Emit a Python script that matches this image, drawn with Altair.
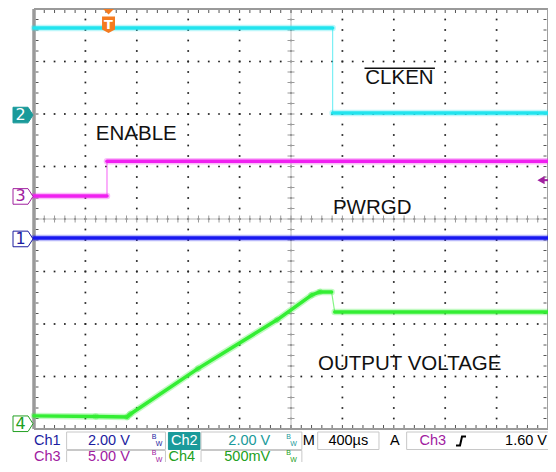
import altair as alt
import numpy as np
import pandas as pd

# ---------------- data (screen divisions: x 0..10 div @ 400 µs/div, y 0..8 div) -------------
ch1_t = [0.0, 10.0]
ch1_v = [3.64, 3.64]
ch2_t = [0.0, 5.81, 5.81, 10.0]
ch2_v = [7.64, 7.64, 6.02, 6.02]
ch3_t = [0.0, 1.42, 1.42, 10.0]
ch3_v = [4.44, 4.44, 5.10, 5.10]
ch4_t = [0.0, 1.20, 1.81, 1.87, 3.19, 4.73, 5.40, 5.56, 5.79, 5.85, 10.0]
ch4_v = [0.25, 0.24, 0.23, 0.28, 1.15, 2.08, 2.55, 2.61, 2.61, 2.23, 2.23]

trace_colors = ["#1818f0", "#22e4ee", "#f020f0", "#33ee33"]
label_colors = ["#1c1ca0", "#1a9a9a", "#a0209f", "#22a022"]

ground_labels = ["1", "2", "3", "4"]
ground_levels = [3.62, 5.98, 4.43, 0.10]

annot_text = ["CLKEN", "ENABLE", "PWRGD", "OUTPUT VOLTAGE"]
annot_x = [7.11, 1.99, 6.58, 7.31]
annot_y = [6.69, 5.61, 4.21, 1.23]

trigger_t = 1.45
trigger_level = 4.74

row1_text = ["Ch1", "2.00 V", "Ch2", "2.00 V", "M", "400µs", "A", "Ch3", "1.60 V"]
row2_text = ["Ch3", "5.00 V", "Ch4", "500mV"]

# ---------------- layout helpers ----------------
W, H = 514, 420
OX, OY = 34, 9  # page position of plot origin
PXD = W / 10.0
PYD = H / 8.0
xs = alt.Scale(domain=[0, 10], nice=False, zero=False)
ys = alt.Scale(domain=[0, 8], nice=False, zero=False)


def X(f):
    return alt.X(f, type="quantitative", scale=xs, axis=None)


def Y(f):
    return alt.Y(f, type="quantitative", scale=ys, axis=None)


def hx(px):
    # reference page x -> pixel x relative to the plot origin (horizontal fit)
    return (px - 34) * W / 520.0


def vy(py):
    return py - OY


# ---------------- graticule ----------------
dots = []
for gx in range(1, 10):
    for k in range(1, 40):
        dots.append(dict(x=gx, y=k * 0.2))
for gy in range(1, 8):
    for k in range(1, 50):
        dots.append(dict(x=k * 0.2, y=gy))
dots_df = pd.DataFrame(dots)

deco = []
tkx = 7 / PXD
tky = 7 / PYD
deco.append(dict(x=0, x2=10, y=4, y2=4, c="#b8b8b8", w=1))
deco.append(dict(x=5, x2=5, y=0, y2=8, c="#b8b8b8", w=1))
for k in range(1, 50):
    deco.append(dict(x=k * 0.2, x2=k * 0.2, y=4 - tky / 2, y2=4 + tky / 2, c="#9a9a9a", w=1))
for k in range(1, 40):
    deco.append(dict(x=5 - tkx / 2, x2=5 + tkx / 2, y=k * 0.2, y2=k * 0.2, c="#9a9a9a", w=1))
for k in range(1, 50):
    deco.append(dict(x=k * 0.2, x2=k * 0.2, y=8, y2=8 - 4 / PYD, c="#555555", w=1))
    deco.append(dict(x=k * 0.2, x2=k * 0.2, y=0, y2=4 / PYD, c="#555555", w=1))
for k in range(1, 40):
    deco.append(dict(x=1.5 / PXD, x2=4.5 / PXD, y=k * 0.2, y2=k * 0.2, c="#555555", w=1))
    deco.append(dict(x=10 - 4.5 / PXD, x2=10 - 1.5 / PXD, y=k * 0.2, y2=k * 0.2, c="#555555", w=1))
deco.append(dict(x=0, x2=10, y=8, y2=8, c="#9a9a9a", w=2))
deco.append(dict(x=0, x2=10, y=0, y2=0, c="#9a9a9a", w=2))
deco.append(dict(x=10, x2=10, y=0, y2=8, c="#a0a0a0", w=2))
deco.append(dict(x=0, x2=0, y=0, y2=8, c="#9a9a9a", w=3.5))
deco_df = pd.DataFrame(deco)

grid_dots = alt.Chart(dots_df).mark_square(size=3, color="#222222", opacity=1).encode(
    x=X("x"), y=Y("y"))
deco_rules = alt.Chart(deco_df).mark_rule().encode(
    x=X("x"), x2="x2:Q", y=Y("y"), y2="y2:Q",
    color=alt.Color("c:N", scale=None),
    strokeWidth=alt.StrokeWidth("w:Q", scale=None))

# ---------------- traces ----------------
segs = []
for t, v, col in zip([ch1_t, ch2_t, ch3_t, ch4_t], [ch1_v, ch2_v, ch3_v, ch4_v], trace_colors):
    for i in range(len(t) - 1):
        dt = t[i + 1] - t[i]
        dv = v[i + 1] - v[i]
        steep = dt == 0 or abs(dv / dt) > 3
        if steep:
            segs.append(dict(x=t[i], x2=t[i + 1], y=v[i], y2=v[i + 1], c=col, w=1.2, op=0.6))
        else:
            segs.append(dict(x=t[i], x2=t[i + 1], y=v[i], y2=v[i + 1], c=col, w=6.5, op=0.3))
            segs.append(dict(x=t[i], x2=t[i + 1], y=v[i], y2=v[i + 1], c=col, w=3.5, op=1.0))
segs_df = pd.DataFrame(segs)
traces = alt.Chart(segs_df).mark_rule(strokeCap="round").encode(
    x=X("x"), x2="x2:Q", y=Y("y"), y2="y2:Q",
    color=alt.Color("c:N", scale=None),
    strokeWidth=alt.StrokeWidth("w:Q", scale=None),
    opacity=alt.Opacity("op:Q", scale=None))

# ---------------- annotations ----------------
ann_df = pd.DataFrame(dict(x=annot_x, y=annot_y, text=annot_text))
annots = alt.Chart(ann_df).mark_text(font="Liberation Sans", fontSize=20.5, color="#111111",
                                     baseline="middle", align="center").encode(
    x=X("x"), y=Y("y"), text="text:N")
over_df = pd.DataFrame(dict(x=[6.43], x2=[7.80], y=[6.87]))
overline = alt.Chart(over_df).mark_rule(color="#111111", strokeWidth=1.5).encode(
    x=X("x"), x2="x2:Q", y=Y("y"))

# ---------------- ground markers ----------------
gfill = ["white", label_colors[1], "white", "white"]
gtext = [label_colors[0], "white", label_colors[2], label_colors[3]]
gm_df = pd.DataFrame(dict(x=[-11 / PXD] * 4, xt=[-13.5 / PXD] * 4, y=ground_levels, lab=ground_labels,
                          fill=gfill, stroke=label_colors, tc=gtext))
marker_path = "M-1,-0.78L0.5,-0.78L1,0L0.5,0.78L-1,0.78Z"
gmarks = alt.Chart(gm_df).mark_point(shape=marker_path, size=400, filled=True, strokeWidth=1,
                                     opacity=1).encode(
    x=X("x"), y=Y("y"), fill=alt.Fill("fill:N", scale=None), stroke=alt.Stroke("stroke:N", scale=None))
gtexts = alt.Chart(gm_df).mark_text(font="DejaVu Sans", fontSize=16, baseline="middle",
                                    align="center").encode(
    x=X("xt"), y=Y("y"), text="lab:N", color=alt.Color("tc:N", scale=None))

# ---------------- trigger markers ----------------
tpath = ("M-0.45,-1L0.45,-1L0,-0.55Z "
         "M-0.54,-0.38L0.54,-0.38L0.54,0.7L0,1L-0.54,0.7Z")
trig_df = pd.DataFrame(dict(x=[trigger_t], y=[7.77], yt=[7.70]))
tmark = alt.Chart(trig_df).mark_point(shape=tpath, size=576, filled=True, color="#f47b20",
                                      opacity=1).encode(x=X("x"), y=Y("y"))
ttext = alt.Chart(trig_df).mark_text(text="T", font="DejaVu Sans", fontSize=13, fontWeight="bold",
                                     color="white", baseline="middle").encode(x=X("x"), y=Y("yt"))
lvl_df = pd.DataFrame(dict(x=[10 - 7 / PXD], x1=[10 - 4 / PXD], x2=[10.0], y=[trigger_level]))
lvl_mark = alt.Chart(lvl_df).mark_point(shape="triangle-left", size=70, filled=True,
                                        color="#a0209f", opacity=1).encode(x=X("x"), y=Y("y"))
lvl_stem = alt.Chart(lvl_df).mark_rule(color="#a0209f", strokeWidth=2).encode(
    x=X("x1"), x2="x2:Q", y=Y("y"))

# ---------------- readout (pixel layout below the graticule) ----------------
r1, r2 = 441.0, 456.5
boxes = [
    (67, 167, 432, 449.5, "white", "#c8c8c8"),
    (170, 202, 432.5, 449.5, "#1a9a9a", "#1a9a9a"),
    (203, 305, 432, 449.5, "white", "#c8c8c8"),
    (321, 383, 432, 449.5, "white", "#c8c8c8"),
    (411, 560, 432, 449.5, "white", "#c8c8c8"),
    (67, 167, 450.5, 470, "white", "#c8c8c8"),
    (203, 305, 450.5, 470, "white", "#c8c8c8"),
]
box_df = pd.DataFrame([dict(x=hx(a), x2=hx(b), y=vy(c), y2=vy(d), f=f, s=s)
                       for a, b, c, d, f, s in boxes])
ro_boxes = alt.Chart(box_df).mark_rect(strokeWidth=1).encode(
    x=alt.X("x:Q", scale=None, axis=None), x2="x2:Q",
    y=alt.Y("y:Q", scale=None, axis=None), y2="y2:Q",
    fill=alt.Fill("f:N", scale=None), stroke=alt.Stroke("s:N", scale=None))

row1_pos = [(34, "left", label_colors[0]), (131, "right", label_colors[0]), (186, "center", "white"),
            (273, "right", label_colors[1]), (312, "center", "black"), (352, "center", "black"),
            (399, "center", "black"), (424, "left", label_colors[2]), (553, "right", "black")]
row2_pos = [(34, "left", label_colors[2]), (131, "right", label_colors[2]), (170, "left", label_colors[3]),
            (273, "right", label_colors[3])]
ro = []
for txt, (px, al, col) in zip(row1_text, row1_pos):
    ro.append(dict(x=hx(px), y=vy(r1), t=txt, al=al, c=col))
for txt, (px, al, col) in zip(row2_text, row2_pos):
    ro.append(dict(x=hx(px), y=vy(r2), t=txt, al=al, c=col))
ro_df = pd.DataFrame(ro)


def ro_layer(al):
    return alt.Chart(ro_df[ro_df.al == al]).mark_text(
        font="Liberation Sans", fontSize=14.5, baseline="middle", align=al).encode(
        x=alt.X("x:Q", scale=None, axis=None), y=alt.Y("y:Q", scale=None, axis=None),
        text="t:N", color=alt.Color("c:N", scale=None))


bw = []
for px, py, col in [(158, r1, label_colors[0]), (294, r1, label_colors[1]),
                    (158, r2, label_colors[2]), (294, r2, label_colors[3])]:
    bw.append(dict(x=hx(px) - 2.5, y=vy(py) - 4, t="B", c=col))
    bw.append(dict(x=hx(px) + 2.5, y=vy(py) + 3, t="W", c=col))
bw_df = pd.DataFrame(bw)
bw_layer = alt.Chart(bw_df).mark_text(font="Liberation Sans", fontSize=7, baseline="middle",
                                      align="center").encode(
    x=alt.X("x:Q", scale=None, axis=None), y=alt.Y("y:Q", scale=None, axis=None),
    text="t:N", color=alt.Color("c:N", scale=None))

edge_df = pd.DataFrame(dict(x=[hx(466)], y=[vy(r1)]))
edge_sym = alt.Chart(edge_df).mark_point(shape="M-1,0.9L-0.2,0.9L0.2,-0.9L1,-0.9", size=100,
                                         filled=False, color="black", strokeWidth=2,
                                         opacity=1).encode(
    x=alt.X("x:Q", scale=None, axis=None), y=alt.Y("y:Q", scale=None, axis=None))

chart = alt.layer(
    grid_dots, deco_rules, traces, annots, overline, gmarks, gtexts, tmark, ttext,
    lvl_stem, lvl_mark, ro_boxes, ro_layer("left"), ro_layer("center"), ro_layer("right"),
    bw_layer, edge_sym
).properties(
    width=W, height=H,
    padding={"left": 26, "top": 1, "right": 0, "bottom": 33},
    autosize=alt.AutoSizeParams(type="none"),
    background="white",
).configure_view(strokeWidth=0)

chart.save("out.html", embed_options={"renderer": "svg", "actions": False})
